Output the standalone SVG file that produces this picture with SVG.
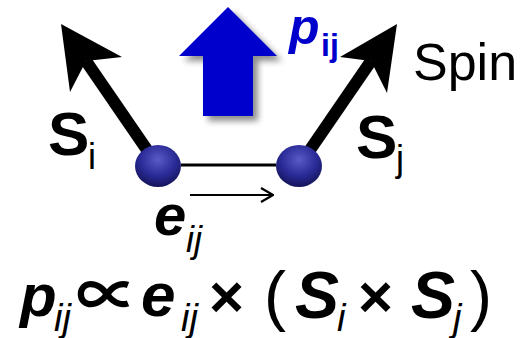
<svg xmlns="http://www.w3.org/2000/svg" width="521" height="338" viewBox="0 0 521 338">
<defs>
<radialGradient id="ball" cx="0.5" cy="0.35" r="0.65">
<stop offset="0" stop-color="#5a5ac8"/>
<stop offset="0.6" stop-color="#2a2a96"/>
<stop offset="1" stop-color="#14145a"/>
</radialGradient>
<filter id="sh" x="-30%" y="-30%" width="170%" height="170%">
<feGaussianBlur in="SourceAlpha" stdDeviation="3"/>
<feOffset dx="5" dy="5" result="b"/>
<feComponentTransfer><feFuncA type="linear" slope="0.45"/></feComponentTransfer>
<feMerge><feMergeNode/><feMergeNode in="SourceGraphic"/></feMerge>
</filter>
<marker id="open" viewBox="0 0 14 16" refX="13" refY="8" markerWidth="14" markerHeight="16" markerUnits="userSpaceOnUse" orient="auto">
<path d="M1,1 L13,8 L1,15" fill="none" stroke="#000" stroke-width="2.2"/>
</marker>
</defs>
<style>
text{font-family:"Liberation Sans",Arial,sans-serif;fill:#000}
.bi{font-weight:bold;font-style:italic}
.b{font-weight:bold}
.it{font-style:italic}
.blue{fill:#0000cc}
.cjk{font-family:"Noto Sans CJK JP","DejaVu Sans",sans-serif;font-weight:bold}
</style>
<g id="connectors">
<line x1="181" y1="165" x2="276" y2="165" stroke="#000" stroke-width="3"/>
<line x1="190" y1="195" x2="273" y2="195" stroke="#000" stroke-width="2.2" marker-end="url(#open)"/>
</g>
<g id="spin-i">
<line x1="156" y1="163" x2="86" y2="61" stroke="#000" stroke-width="12"/>
<polygon points="61,24 122,57 86,61 70,92" fill="#000"/>
</g>
<g id="spin-j">
<line x1="301" y1="163" x2="371" y2="61" stroke="#000" stroke-width="12"/>
<polygon points="397,24 340,57 371,61 387,93" fill="#000"/>
</g>
<g id="polarization" filter="url(#sh)">
<polygon points="228,7 277,56 253,56 253,116 203,116 203,56 179,56" fill="#0000cc"/>
</g>
<g id="site-i"><ellipse cx="158" cy="166" rx="23" ry="21" fill="url(#ball)"/></g>
<g id="site-j"><ellipse cx="299" cy="166" rx="23" ry="21" fill="url(#ball)"/></g>
<g id="labels">
<text x="289" y="44" font-size="50" class="bi blue">p</text>
<text x="321" y="56" font-size="32" class="b blue">ij</text>
<text x="413" y="80" font-size="52">Spin</text>
<text x="48" y="155" font-size="62" class="b">S</text>
<text x="88" y="169" font-size="36">i</text>
<text x="356" y="158" font-size="62" class="b">S</text>
<text x="396" y="171" font-size="36">j</text>
<text x="154" y="235" font-size="58" class="bi">e</text>
<text x="186" y="252" font-size="36" class="it">ij</text>
</g>
<g id="formula">
<text x="20" y="316" font-size="60" class="bi">p</text>
<text x="54" y="331" font-size="38" class="it">ij</text>
<text x="76" y="318" font-size="62" class="cjk">∝</text>
<text x="141" y="316" font-size="62" class="bi">e</text>
<text x="181" y="331" font-size="38" class="it">ij</text>
<text x="209" y="317" font-size="60" class="b">×</text>
<text x="264" y="318" font-size="66">(</text>
<text x="295" y="318" font-size="66" class="bi">S</text>
<text x="337" y="331" font-size="38" class="it">i</text>
<text x="358" y="317" font-size="60" class="b">×</text>
<text x="411" y="318" font-size="66" class="bi">S</text>
<text x="453" y="331" font-size="38" class="it">j</text>
<text x="470" y="318" font-size="66">)</text>
</g>
</svg>
